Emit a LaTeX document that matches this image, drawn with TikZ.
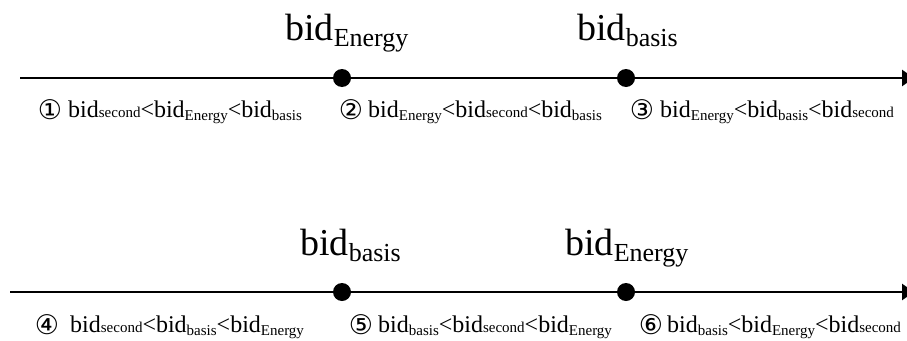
\documentclass[tikz,border=0pt]{standalone}
\usepackage{fontspec}
\setmainfont{Liberation Serif}
\newfontfamily\circfont{DejaVu Sans}
\usetikzlibrary{arrows.meta}
% small label pieces
\newcommand\Sb{{\fontsize{24}{24}\selectfont bid}}
\newcommand\SsE{\raisebox{-3pt}{\fontsize{15}{15}\selectfont Energy}}
\newcommand\SsB{\raisebox{-3pt}{\fontsize{15}{15}\selectfont basis}}
\newcommand\SsS{{\fontsize{15}{15}\selectfont second}}
\newcommand\Slt{{\fontsize{24}{24}\selectfont <}}
% big label pieces
\newcommand\Bb{{\fontsize{38}{38}\selectfont bid}}
\newcommand\BsE{\raisebox{-6pt}{\fontsize{26}{26}\selectfont Energy}}
\newcommand\BsB{\raisebox{-6pt}{\fontsize{26}{26}\selectfont basis}}
\begin{document}
\begin{tikzpicture}[x=1pt,y=-1pt,
  axis/.style={line width=2.6pt,-{Triangle[length=12pt,width=16pt]}},
  pt/.style={circle,fill=black,inner sep=0pt,minimum size=18pt},
  txt/.style={anchor=base west,inner sep=0pt},
  circ/.style={anchor=base,inner sep=0pt,font=\circfont\fontsize{27}{27}\selectfont}]
\useasboundingbox (0,0) rectangle (907,340);
% top axis
\coordinate (t0) at (20,78);
\coordinate (t1) at (914,78);
\draw[axis] (t0) -- (t1);
\node[pt] (ta) at (342,78) {};
\node[pt] (tb) at (626,78) {};
\node[txt] (tla) at (285,40) {\Bb\BsE};
\node[txt] (tlb) at (577,40) {\Bb\BsB};
% top cases
\node[circ] (c1) at (50,119) {①};
\node[txt] (r1) at (68,117) {\Sb\SsS\Slt\Sb\SsE\Slt\Sb\SsB};
\node[circ] (c2) at (351,119) {②};
\node[txt] (r2) at (368,117) {\Sb\SsE\Slt\Sb\SsS\Slt\Sb\SsB};
\node[circ] (c3) at (642,119) {③};
\node[txt] (r3) at (660,117) {\Sb\SsE\Slt\Sb\SsB\Slt\Sb\SsS};
% bottom axis
\coordinate (b0) at (10,292);
\coordinate (b1) at (914,292);
\draw[axis] (b0) -- (b1);
\node[pt] (ba) at (342,292) {};
\node[pt] (bb) at (626,292) {};
\node[txt] (bla) at (300,255) {\Bb\BsB};
\node[txt] (blb) at (565,255) {\Bb\BsE};
% bottom cases
\node[circ] (c4) at (47,334) {④};
\node[txt] (r4) at (70,332) {\Sb\SsS\Slt\Sb\SsB\Slt\Sb\SsE};
\node[circ] (c5) at (361,334) {⑤};
\node[txt] (r5) at (378,332) {\Sb\SsB\Slt\Sb\SsS\Slt\Sb\SsE};
\node[circ] (c6) at (651,334) {⑥};
\node[txt] (r6) at (667,332) {\Sb\SsB\Slt\Sb\SsE\Slt\Sb\SsS};
\end{tikzpicture}
\end{document}
